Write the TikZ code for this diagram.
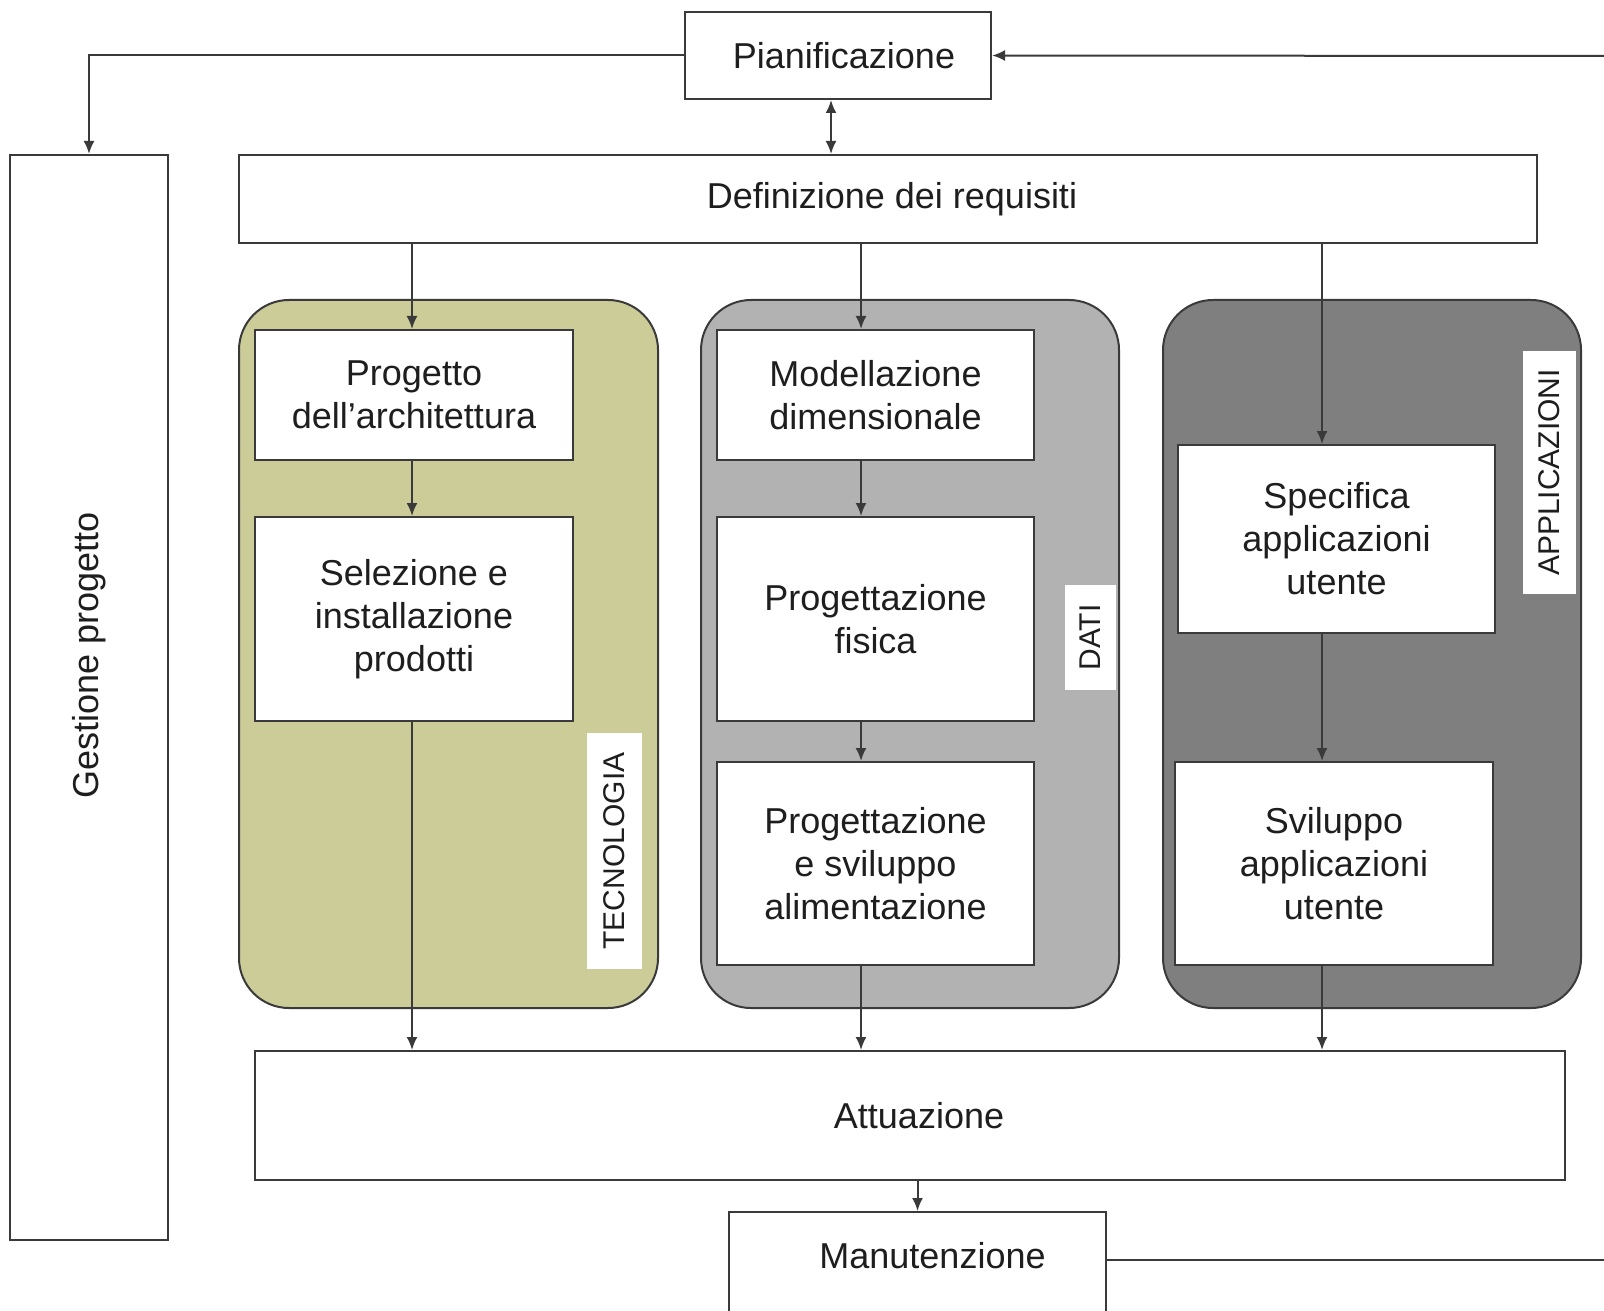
\documentclass[tikz,border=0pt]{standalone}
\usepackage{fontspec}
\setmainfont{Liberation Sans}
\usetikzlibrary{arrows.meta}
\definecolor{ink}{HTML}{1E1E1E}
\definecolor{edge}{HTML}{3A3A3A}
\definecolor{olive}{HTML}{CCCC99}
\definecolor{midgray}{HTML}{B2B2B2}
\definecolor{deepgray}{HTML}{7F7F7F}

\begin{document}
\begin{tikzpicture}[x=0.5pt,y=-0.5pt,
  box/.style={draw=edge, line width=1pt, fill=white, inner sep=0pt, text=ink,
              font=\fontsize{18}{21.5}\selectfont},
  multi/.style={box, align=center},
  group/.style={draw=edge, line width=1pt, rounded corners=25pt, inner sep=0pt},
  tag/.style={fill=white, rotate=90, inner sep=0pt, text=ink,
              font=\fontsize{15}{17}\selectfont},
  tip/.tip={Latex[length=6.5pt,width=5.5pt]},
  arr/.style={draw=edge, line width=1pt, -tip},
  biarr/.style={draw=edge, line width=1pt, tip-tip},
  link/.style={draw=edge, line width=1pt}]
\useasboundingbox (0,0) rectangle (1604,1310);

% column guides for the vertical flows
\coordinate (ct) at (412,0);
\coordinate (cd) at (861,0);
\coordinate (ca) at (1322,0);
\coordinate (cb) at (831,0);
\coordinate (rtop) at (1604,56);
\coordinate (rbot) at (1604,1260);

% shaded areas
\node[group, fill=olive,    minimum width=209.5pt, minimum height=354pt] (gtec) at (448.5,654) {};
\node[group, fill=midgray,  minimum width=209pt,   minimum height=354pt] (gdat) at (910,654) {};
\node[group, fill=deepgray, minimum width=209pt,   minimum height=354pt] (gapp) at (1372,654) {};

% area tags
\node[tag, minimum width=118pt, minimum height=27.5pt] (ttec) at (614.5,851) {TECNOLOGIA};
\node[tag, minimum width=52.5pt, minimum height=25.5pt] (tdat) at (1090.5,637.5) {DATI};
\node[tag, minimum width=121.5pt, minimum height=26.5pt] (tapp) at (1549.5,472.5) {APPLICAZIONI};

% main boxes
\node[box, minimum width=153pt, minimum height=43.5pt] (pian) at (838,55.5) {\hspace*{6pt}Pianificazione};
\node[box, minimum width=649pt, minimum height=44pt] (def) at (888,199) {\hspace*{4pt}Definizione dei requisiti};
\node[box, minimum width=79pt, minimum height=542.5pt] (gest) at (89,697.5) {\rotatebox{90}{\hspace*{42pt}Gestione progetto}};
\node[box, minimum width=655pt, minimum height=64.5pt] (att) at (910,1115.5) {\hspace*{9pt}Attuazione};
\node[box, anchor=north, minimum width=188.5pt, text height=28pt, text depth=31.5pt] (manut) at (917.5,1211) {\hspace*{15pt}Manutenzione};

% technology column
\node[multi, minimum width=159pt, minimum height=65pt]  (arch) at (414,395) {Progetto\\dell’architettura};
\node[multi, minimum width=159pt, minimum height=102pt] (sel)  at (414,619) {Selezione e\\installazione\\prodotti};

% data column
\node[multi, minimum width=158.5pt, minimum height=65pt]    (mod)  at (875.5,395)   {Modellazione\\dimensionale};
\node[multi, minimum width=158.5pt, minimum height=102pt]   (fis)  at (875.5,619)   {Progettazione\\fisica};
\node[multi, minimum width=158.5pt, minimum height=101.5pt] (alim) at (875.5,863.5) {Progettazione\\e sviluppo\\alimentazione};

% applications column
\node[multi, minimum width=158.5pt, minimum height=94pt]    (spec) at (1336.5,539) {Specifica\\applicazioni\\utente};
\node[multi, minimum width=159pt,   minimum height=101.5pt] (svil) at (1334,863.5) {Sviluppo\\applicazioni\\utente};

% connectors
\draw[arr] (pian.west) -| (gest.north);
\draw[arr] (rtop) -- (pian.east);
\draw[biarr] (pian.south -| cb) -- (def.north -| cb);

\draw[arr] (def.south -| ct) -- (arch.north -| ct);
\draw[arr] (arch.south -| ct) -- (sel.north -| ct);
\draw[arr] (sel.south -| ct) -- (att.north -| ct);

\draw[arr] (def.south -| cd) -- (mod.north -| cd);
\draw[arr] (mod.south -| cd) -- (fis.north -| cd);
\draw[arr] (fis.south -| cd) -- (alim.north -| cd);
\draw[arr] (alim.south -| cd) -- (att.north -| cd);

\draw[arr] (def.south -| ca) -- (spec.north -| ca);
\draw[arr] (spec.south -| ca) -- (svil.north -| ca);
\draw[arr] (svil.south -| ca) -- (att.north -| ca);

\draw[arr] (att.south -| manut.north) -- (manut.north);
\draw[link] (rbot) -- (rbot -| manut.east);
\end{tikzpicture}
\end{document}
